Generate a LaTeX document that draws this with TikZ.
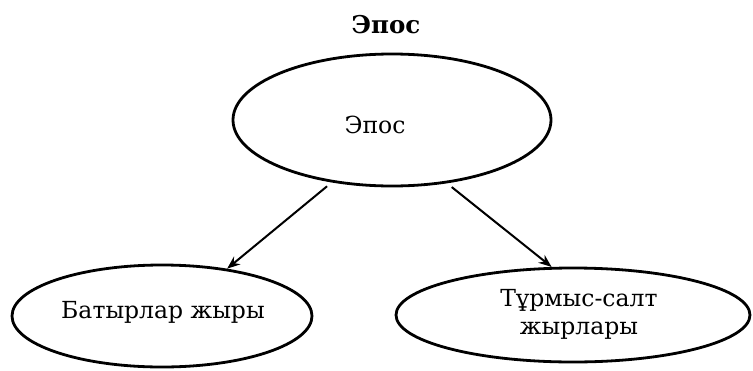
\documentclass[tikz,border=0pt]{standalone}
\usepackage{fontspec}
\setmainfont{DejaVu Serif}
\usetikzlibrary{arrows.meta, shapes.geometric}

\tikzset{
  oval/.style={ellipse, draw=black, line width=2.8pt, inner sep=0pt},
  txt/.style={font=\fontsize{23.5}{28}\selectfont, inner sep=0pt, text=black},
  heading/.style={font=\bfseries\fontsize{24.5}{29}\selectfont, inner sep=0pt, text=black},
  link/.style={draw=black, line width=2pt, -{Stealth[length=13pt, width=10pt]}}
}

\begin{document}
\begin{tikzpicture}[x=1pt, y=-1pt]
  \useasboundingbox (0,0) rectangle (753,370);
  \fill[white] (0,0) rectangle (753,370);

  % heading
  \node[heading, anchor=base] (title) at (386,33) {Эпос};

  % the three ovals
  \node[oval, minimum width=318pt, minimum height=132pt] (epos) at (392,120) {};
  \node[oval, minimum width=300pt, minimum height=102pt] (bat) at (162,316) {};
  \node[oval, minimum width=354pt, minimum height=94pt] (ts) at (573,315) {};

  % their texts
  \node[txt, anchor=base] (eposlbl) at (375,133) {Эпос};
  \node[txt, anchor=base] (batlbl) at (163,318) {Батырлар жыры};
  \node[txt, align=center] (tslbl) at (579,314) {Тұрмыс-салт\\жырлары};

  % connectors
  \draw[link, shorten <=6pt] (epos.-134) -- (bat.36);
  \draw[link, shorten <=6pt] (epos.-49) -- (ts.114);
\end{tikzpicture}
\end{document}
